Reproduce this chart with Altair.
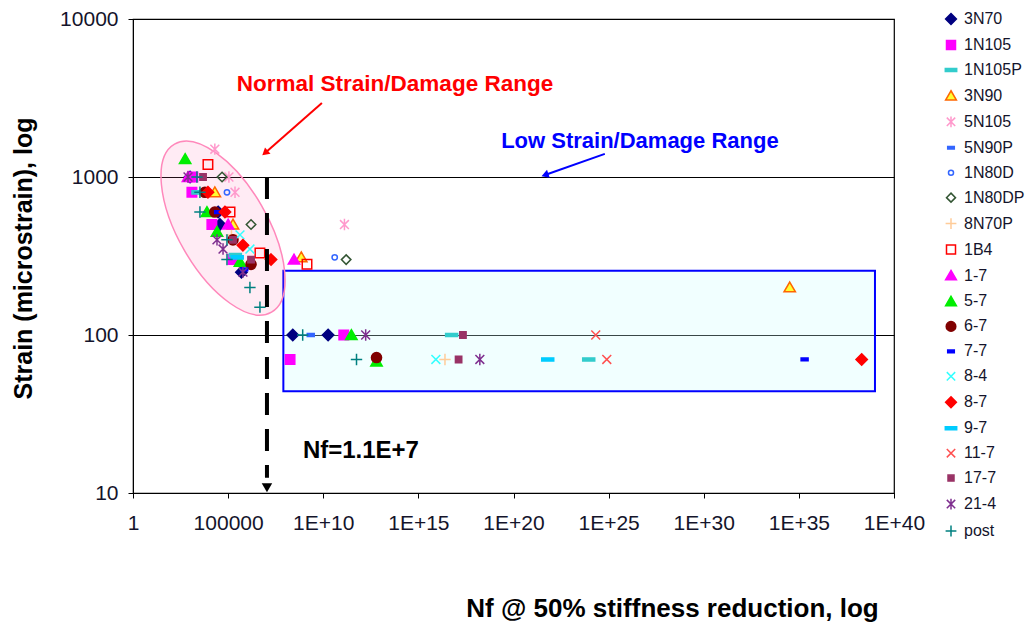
import altair as alt
import pandas as pd

FONT = "Liberation Sans"
INK = "#14142b"

# ---- specimen groups, legend order ------------------------------------
SERIES = ["3N70", "1N105", "1N105P", "3N90", "5N105", "5N90P", "1N80D",
          "1N80DP", "8N70P", "1B4", "1-7", "5-7", "6-7", "7-7", "8-4", "8-7",
          "9-7", "11-7", "17-7", "21-4", "post"]

# ---- Nf at 50% stiffness reduction / strain (microstrain) per group ----
nf_3N70 = [1.0e3, 3.0e4, 3.7e4, 5.0e5, 2.5e8, 1.8e10]
st_3N70 = [1000, 600, 500, 250, 100, 100]
nf_1N105 = [1.4e3, 1.25e3, 1.4e4, 1.8e5, 1.2e11, 1.8e8]
st_1N105 = [1000, 800, 500, 300, 100, 70]
nf_1N105P = [2.6e3, 2.4e5, 5.6e16, 9.0e23]
st_1N105P = [800, 320, 100, 70]
nf_3N90 = [2.0e4, 1.8e5, 7.0e8, 3.3e34]
st_3N90 = [800, 500, 310, 200]
nf_5N105 = [2.0e4, 1.1e5, 2.3e5, 1.3e11]
st_5N105 = [1500, 1000, 800, 500]
nf_5N90P = [2.2e9]
st_5N90P = [100]
nf_1N80D = [8.7e4, 4.0e10]
st_1N80D = [800, 310]
nf_1N80DP = [4.8e4, 1.6e6, 1.6e11]
st_1N80DP = [1000, 500, 300]
nf_8N70P = [1.5e5, 2.5e16]
st_8N70P = [430, 70]
nf_1B4 = [8.7e3, 1.26e5, 4.7e6, 1.4e9]
st_1B4 = [1200, 600, 330, 280]
nf_1_7 = [7.8e2, 1.0e5, 2.9e8]
st_1_7 = [1000, 500, 300]
nf_5_7 = [5.5e2, 7.7e3, 2.6e4, 4.2e5, 3.0e11, 6.3e12]
st_5_7 = [1300, 600, 450, 290, 100, 68]
nf_6_7 = [6.0e3, 2.0e4, 1.8e5, 1.6e6, 6.3e12]
st_6_7 = [800, 600, 400, 280, 72]
nf_7_7 = [3.0e4, 7.0e5, 2.0e35]
st_7_7 = [600, 260, 70]
nf_8_4 = [4.2e5, 1.4e6, 8.3e15]
st_8_4 = [430, 350, 70]
nf_8_7 = [8.7e3, 6.8e4, 6.0e5, 1.8e7, 2.0e38]
st_8_7 = [800, 600, 370, 300, 70]
nf_9_7 = [3.0e5, 6.3e21]
st_9_7 = [310, 70]
nf_11_7 = [2.1e24, 8.0e24]
st_11_7 = [100, 70]
nf_17_7 = [4.8e3, 1.8e5, 1.6e6, 2.2e17, 1.3e17]
st_17_7 = [1000, 400, 300, 100, 70]
nf_21_4 = [7.8e2, 2.6e4, 5.4e4, 6.0e5, 1.7e12, 1.7e18]
st_21_4 = [1000, 400, 350, 250, 100, 70]
nf_post = [2.3e3, 3.3e3, 3.3e3, 8.7e4, 8.7e4, 1.4e6, 4.7e6, 8.3e8, 5.6e11]
st_post = [1000, 800, 600, 400, 300, 200, 150, 100, 70]

GROUPS = [
    (nf_3N70, st_3N70), (nf_1N105, st_1N105), (nf_1N105P, st_1N105P),
    (nf_3N90, st_3N90), (nf_5N105, st_5N105), (nf_5N90P, st_5N90P),
    (nf_1N80D, st_1N80D), (nf_1N80DP, st_1N80DP), (nf_8N70P, st_8N70P),
    (nf_1B4, st_1B4), (nf_1_7, st_1_7), (nf_5_7, st_5_7), (nf_6_7, st_6_7),
    (nf_7_7, st_7_7), (nf_8_4, st_8_4), (nf_8_7, st_8_7), (nf_9_7, st_9_7),
    (nf_11_7, st_11_7), (nf_17_7, st_17_7), (nf_21_4, st_21_4),
    (nf_post, st_post),
]

# ---- marker glyphs (unit square, scaled by symbol size) ----------------
DIAMOND = "M0,-0.9L0.9,0L0,0.9L-0.9,0Z"
OPEN_DIAMOND = "M0,-0.75L0.75,0L0,0.75L-0.75,0Z"
SQUARE = "M-0.75,-0.75H0.75V0.75H-0.75Z"
SMALL_SQUARE = "M-0.5,-0.5H0.5V0.5H-0.5Z"
DASH = "M-0.95,-0.25H0.95V0.25H-0.95Z"
SHORT_DASH = "M-0.55,-0.22H0.55V0.22H-0.55Z"
TRIANGLE = "M0,-0.85L0.9,0.7L-0.9,0.7Z"
STAR = "M-0.7,-0.7L0.7,0.7M-0.7,0.7L0.7,-0.7M0,-0.9V0.9"
XMARK = "M-0.7,-0.7L0.7,0.7M-0.7,0.7L0.7,-0.7"
PLUS = "M-0.9,0H0.9M0,-0.9V0.9"
CIRCLE = "M-0.8,0A0.8,0.8,0,1,1,0.8,0A0.8,0.8,0,1,1,-0.8,0Z"
SMALL_CIRCLE = "M-0.42,0A0.42,0.42,0,1,1,0.42,0A0.42,0.42,0,1,1,-0.42,0Z"

SHAPES = [DIAMOND, SQUARE, DASH, TRIANGLE, STAR, SHORT_DASH, SMALL_CIRCLE,
          OPEN_DIAMOND, PLUS, SQUARE, TRIANGLE, TRIANGLE, CIRCLE, SHORT_DASH,
          XMARK, DIAMOND, DASH, XMARK, SMALL_SQUARE, STAR, PLUS]
FILLS = ["#000080", "#ff00ff", "#33cccc", "#ffff33", "transparent", "#3366ff",
         "transparent", "transparent", "transparent", "transparent", "#ff00ff",
         "#00ee00", "#800000", "#0000ff", "transparent", "#ff0000", "#00ccff",
         "transparent", "#993366", "transparent", "transparent"]
STROKES = ["#000080", "#ff00ff", "#33cccc", "#ff6600", "#ff99cc", "#3366ff",
           "#3366ff", "#335533", "#ffcc99", "#ff0000", "#ff00ff", "#00ee00",
           "#800000", "#0000ff", "#33ffff", "#ff0000", "#00ccff", "#ff5050",
           "#993366", "#7f2f8f", "#008080"]

# ---- annotation anchors (data coordinates) ----------------------------
ELLIPSE_NF, ELLIPSE_ST = [5.4e4], [475]
BOX_NF = [8.0e7, 1.0e39]
BOX_ST = [255, 44]
CUTOFF_NF = 1.1e7
CUTOFF_ST = [1000, 12.5]
CUTOFF_TIP_ST = 10.8
RED_ARROW = ([8.5e9, 2940], [8.7e6, 1420])
BLUE_ARROW = ([6.3e24, 1400], [4.5e21, 1030])
LABELS = ["Normal Strain/Damage Range", "Low Strain/Damage Range", "Nf=1.1E+7"]
LABEL_NF = [5.9e13, 4.4e26, 8.5e8]
LABEL_ST = [3880, 1690, 18.4]

rows = []
for name, (nfs, sts) in zip(SERIES, GROUPS):
    for n, s in zip(nfs, sts):
        rows.append({"series": name, "nf": n, "strain": s})
points_df = pd.DataFrame(rows)

xscale = alt.Scale(type="log", domain=[1, 1e40], nice=False)
yscale = alt.Scale(type="log", domain=[10, 10000], nice=False)

x_axis = alt.Axis(
    values=[10.0 ** k for k in range(0, 41, 5)],
    labelExpr="datum.value < 2 ? '1' : datum.value < 1e6 ? '100000' : '1E+' + round(log(datum.value) / LN10)",
    grid=False, tickSize=5, tickColor="black", domainColor="black",
    labelFont=FONT, labelFontSize=21, labelColor=INK, labelPadding=14,
    labelFlush=False, labelOverlap=False,
    titleFont=FONT, titleFontSize=26, titleFontWeight="bold", titleColor="black",
    titleX=539, titleY=115, titleAnchor="middle", titleBaseline="middle",
)
y_axis = alt.Axis(
    values=[10, 100, 1000, 10000], format="d",
    grid=True, gridColor="black", gridWidth=1.2, gridOpacity=1,
    tickSize=5, tickColor="black", domainColor="black",
    labelFont=FONT, labelFontSize=21, labelColor=INK, labelPadding=10,
    labelFlush=False,
    titleFont=FONT, titleFontSize=25, titleFontWeight="bold", titleColor="black",
    titleX=-110, titleY=239, titleAngle=270, titleAnchor="middle",
    titleBaseline="middle",
)
X_TITLE = "Nf @ 50% stiffness reduction, log"
Y_TITLE = "Strain (microstrain), log"


def enc_x():
    return alt.X("nf:Q", scale=xscale, axis=x_axis, title=X_TITLE)


def enc_y():
    return alt.Y("strain:Q", scale=yscale, axis=y_axis, title=Y_TITLE)


legend = alt.Legend(
    title=None, orient="none", legendX=810, legendY=-8, padding=0,
    labelFont=FONT, labelFontSize=16, labelColor=INK, labelOffset=5,
    symbolSize=144, symbolStrokeWidth=1.5, rowPadding=8.95, symbolOpacity=1,
)

points = alt.Chart(points_df).mark_point(size=160, strokeWidth=1.5, opacity=1).encode(
    x=enc_x(),
    y=enc_y(),
    shape=alt.Shape("series:N", scale=alt.Scale(domain=SERIES, range=SHAPES), legend=legend),
    fill=alt.Fill("series:N", scale=alt.Scale(domain=SERIES, range=FILLS), legend=legend),
    stroke=alt.Stroke("series:N", scale=alt.Scale(domain=SERIES, range=STROKES), legend=legend),
)

# pink ellipse around the conventional fatigue cluster
ellipse = alt.Chart(pd.DataFrame({"nf": ELLIPSE_NF, "strain": ELLIPSE_ST})).mark_point(
    shape="M-1,0A1,0.46,0,1,1,1,0A1,0.46,0,1,1,-1,0Z",
    size=37636, angle=60, filled=True, fill="#ff66aa", fillOpacity=0.13,
    stroke="#ff88bb", strokeOpacity=1, strokeWidth=1.5,
).encode(x=enc_x(), y=enc_y())

# shaded low strain region
box = alt.Chart(pd.DataFrame({"nf": [BOX_NF[0]], "nf2": [BOX_NF[1]],
                              "strain": [BOX_ST[0]], "strain2": [BOX_ST[1]]})).mark_rect(
    fill="#ccffff", fillOpacity=0.28, stroke="#0000ff", strokeWidth=2,
).encode(x=enc_x(), x2="nf2:Q", y=enc_y(), y2="strain2:Q")

# dashed cutoff at the endurance Nf with a downward arrowhead
cutoff = alt.Chart(pd.DataFrame({"nf": [CUTOFF_NF], "strain": [CUTOFF_ST[0]],
                                 "strain2": [CUTOFF_ST[1]]})).mark_rule(
    color="black", strokeWidth=4, strokeDash=[22, 14],
).encode(x=enc_x(), y=enc_y(), y2="strain2:Q")
cutoff_tip = alt.Chart(pd.DataFrame({"nf": [CUTOFF_NF], "strain": [CUTOFF_TIP_ST]})).mark_point(
    shape="triangle-down", size=110, filled=True, color="black", opacity=1,
).encode(x=enc_x(), y=enc_y())


def arrow(tail, tip, color, angle):
    seg = alt.Chart(pd.DataFrame({"nf": [tail[0]], "strain": [tail[1]],
                                  "nf2": [tip[0]], "strain2": [tip[1]]})).mark_rule(
        color=color, strokeWidth=2,
    ).encode(x=enc_x(), x2="nf2:Q", y=enc_y(), y2="strain2:Q")
    head = alt.Chart(pd.DataFrame({"nf": [tip[0]], "strain": [tip[1]]})).mark_point(
        shape="triangle-up", size=70, filled=True, color=color, opacity=1, angle=angle,
    ).encode(x=enc_x(), y=enc_y())
    return seg + head


red_arrow = arrow(RED_ARROW[0], RED_ARROW[1], "#ff0000", 229)
blue_arrow = arrow(BLUE_ARROW[0], BLUE_ARROW[1], "#0000ff", 251)


def label(i, color, size, align):
    return alt.Chart(pd.DataFrame({"nf": [LABEL_NF[i]], "strain": [LABEL_ST[i]],
                                   "text": [LABELS[i]]})).mark_text(
        font=FONT, fontSize=size, fontWeight="bold", color=color, align=align,
        baseline="middle",
    ).encode(x=enc_x(), y=enc_y(), text="text:N")


labels = (label(0, "#ff0000", 22.5, "center") + label(1, "#0000ff", 22, "center")
          + label(2, "black", 24, "left"))

chart = alt.layer(
    box, ellipse, points, cutoff, cutoff_tip, red_arrow, blue_arrow, labels,
).properties(
    width=761, height=474,
    autosize=alt.AutoSizeParams(type="none"),
    padding={"left": 133, "top": 19, "right": 135, "bottom": 134},
    background="white",
).configure_view(stroke="black", strokeWidth=1.2)

chart.save("out.html", embed_options={"renderer": "svg", "actions": False})
